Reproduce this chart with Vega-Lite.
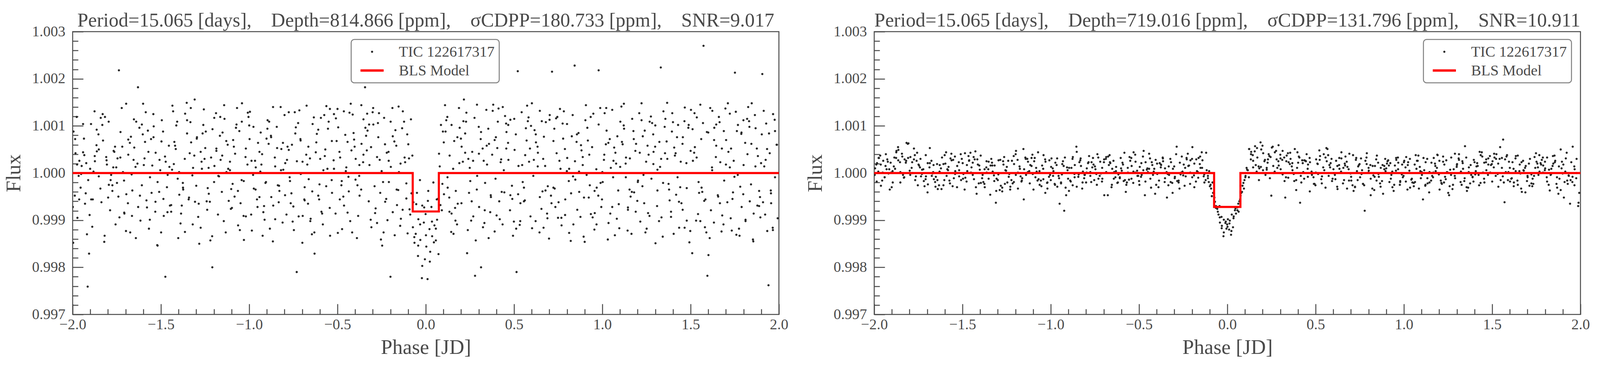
{
  "$schema": "https://vega.github.io/schema/vega-lite/v6.json",
  "background": "white",
  "padding": {"left": 8, "top": 26, "right": 0, "bottom": 10},
  "spacing": 41,
  "resolve": {"scale": {"color": "independent", "shape": "independent"}, "legend": {"color": "independent", "shape": "independent"}},
  "config": {
    "font": "Liberation Serif",
    "view": {"stroke": "#4a4a4a", "strokeWidth": 2.5},
    "axis": {
      "grid": false,
      "domain": false,
      "labelFont": "Liberation Serif",
      "labelFontSize": 38,
      "labelColor": "#4a4a4a",
      "titleFont": "Liberation Serif",
      "titleFontSize": 53,
      "titleFontWeight": "normal",
      "titleColor": "#4a4a4a",
      "tickColor": "#4a4a4a",
      "tickWidth": 2.5,
      "labelFlush": false,
      "labelOverlap": false
    },
    "title": {
      "font": "Liberation Serif",
      "fontSize": 50,
      "fontWeight": "normal",
      "color": "#4a4a4a",
      "frame": "group",
      "anchor": "middle",
      "baseline": "alphabetic",
      "offset": -16
    },
    "legend": {
      "strokeWidth": 2.5,
      "title": null,
      "symbolSize": 1521,
      "symbolStrokeWidth": 0,
      "symbolOffset": 22,
      "labelOffset": 49,
      "padding": 12,
      "rowPadding": 9,
      "labelFont": "Liberation Serif",
      "labelFontSize": 38.5,
      "labelColor": "#4a4a4a",
      "labelLimit": 600,
      "strokeColor": "#7f7f7f",
      "cornerRadius": 8,
      "fillColor": "#ffffff",
      "symbolOpacity": 1
    }
  },
  "datasets": {
    "ma": [{"x": -2, "y": 1}, {"x": -0.074, "y": 0.999185}, {"x": 0.074, "y": 1}, {"x": 2, "y": 1}],
    "mb": [{"x": -2, "y": 1}, {"x": -0.075, "y": 0.999281}, {"x": 0.074, "y": 1}, {"x": 2, "y": 1}],
    "a": [
{"x":-1.984,"y":1.00042},{"x":-1.955,"y":0.99969},{"x":-1.995,"y":1.00088},{"x":-1.966,"y":0.99994},{"x":-1.999,"y":0.99928},{"x":-1.949,"y":1.00015},{"x":-1.977,"y":1.00119},{"x":-1.988,"y":0.99952},{"x":-1.962,"y":1.00026},{"x":-1.973,"y":0.99905},
{"x":-1.912,"y":0.99985},{"x":-1.936,"y":1.00073},{"x":-1.895,"y":0.99944},{"x":-1.923,"y":1.00021},{"x":-1.904,"y":0.99911},{"x":-1.934,"y":1.00038},{"x":-1.941,"y":1.00104},{"x":-1.915,"y":0.99759},{"x":-1.901,"y":1.00009},{"x":-1.926,"y":0.99957},
{"x":-1.876,"y":1.00131},{"x":-1.852,"y":0.99993},{"x":-1.863,"y":1.00046},{"x":-1.889,"y":0.99886},{"x":-1.874,"y":1.00025},{"x":-1.837,"y":0.99938},{"x":-1.854,"y":1.00082},{"x":-1.843,"y":0.99967},{"x":-1.882,"y":1.00003},{"x":-1.865,"y":1.00059},
{"x":-1.788,"y":0.99921},{"x":-1.810,"y":1.00034},{"x":-1.832,"y":1.00102},{"x":-1.795,"y":0.99975},{"x":-1.821,"y":0.99854},{"x":-1.806,"y":1.00018},{"x":-1.782,"y":0.99996},{"x":-1.828,"y":1.00069},{"x":-1.799,"y":0.99948},{"x":-1.817,"y":1.00119},
{"x":-1.760,"y":1.00056},{"x":-1.735,"y":0.99906},{"x":-1.770,"y":1.00012},{"x":-1.746,"y":1.00031},{"x":-1.775,"y":0.99962},{"x":-1.729,"y":1.00087},{"x":-1.757,"y":0.99891},{"x":-1.768,"y":1.00047},{"x":-1.738,"y":1.00218},{"x":-1.749,"y":0.99979},
{"x":-1.687,"y":0.99936},{"x":-1.715,"y":1.00002},{"x":-1.670,"y":1.00077},{"x":-1.698,"y":0.99877},{"x":-1.685,"y":1.00039},{"x":-1.709,"y":0.99984},{"x":-1.722,"y":1.00138},{"x":-1.696,"y":0.99955},{"x":-1.676,"y":1.00064},{"x":-1.707,"y":0.99914},
{"x":-1.655,"y":1.00028},{"x":-1.629,"y":0.99928},{"x":-1.640,"y":1.00109},{"x":-1.666,"y":0.99997},{"x":-1.651,"y":1.00054},{"x":-1.616,"y":0.99899},{"x":-1.633,"y":1.00020},{"x":-1.622,"y":1.00096},{"x":-1.662,"y":0.99963},{"x":-1.644,"y":1.00013},
{"x":-1.568,"y":0.99882},{"x":-1.590,"y":1.00066},{"x":-1.608,"y":0.99974},{"x":-1.571,"y":1.00045},{"x":-1.601,"y":1.00147},{"x":-1.582,"y":0.99942},{"x":-1.562,"y":0.99991},{"x":-1.603,"y":1.00082},{"x":-1.579,"y":0.99927},{"x":-1.593,"y":1.00031},
{"x":-1.541,"y":1.00099},{"x":-1.510,"y":0.99960},{"x":-1.549,"y":1.00016},{"x":-1.521,"y":0.99847},{"x":-1.556,"y":1.00072},{"x":-1.504,"y":1.00006},{"x":-1.532,"y":0.99918},{"x":-1.543,"y":1.00125},{"x":-1.519,"y":0.99981},{"x":-1.530,"y":1.00043},
{"x":-1.466,"y":0.99970},{"x":-1.495,"y":1.00112},{"x":-1.449,"y":0.99931},{"x":-1.477,"y":1.00035},{"x":-1.462,"y":0.99996},{"x":-1.488,"y":1.00088},{"x":-1.499,"y":0.99874},{"x":-1.473,"y":1.00024},{"x":-1.455,"y":1.00058},{"x":-1.484,"y":0.99909},
{"x":-1.435,"y":1.00143},{"x":-1.405,"y":0.99988},{"x":-1.416,"y":1.00051},{"x":-1.442,"y":0.99918},{"x":-1.427,"y":1.00019},{"x":-1.396,"y":0.99954},{"x":-1.413,"y":1.00101},{"x":-1.402,"y":0.99862},{"x":-1.437,"y":1.00007},{"x":-1.424,"y":1.00066},
{"x":-1.343,"y":0.99944},{"x":-1.365,"y":1.00030},{"x":-1.389,"y":0.99893},{"x":-1.352,"y":1.00084},{"x":-1.376,"y":0.99979},{"x":-1.363,"y":1.00126},{"x":-1.337,"y":1.00042},{"x":-1.382,"y":0.99931},{"x":-1.354,"y":1.00149},{"x":-1.374,"y":0.99965},
{"x":-1.318,"y":1.00011},{"x":-1.289,"y":0.99907},{"x":-1.329,"y":1.00065},{"x":-1.300,"y":0.99973},{"x":-1.333,"y":1.00108},{"x":-1.283,"y":0.99850},{"x":-1.311,"y":1.00037},{"x":-1.322,"y":0.99995},{"x":-1.296,"y":1.00076},{"x":-1.307,"y":0.99939},
{"x":-1.246,"y":1.00088},{"x":-1.270,"y":1.00024},{"x":-1.229,"y":0.99956},{"x":-1.257,"y":1.00135},{"x":-1.238,"y":0.99922},{"x":-1.268,"y":1.00009},{"x":-1.275,"y":0.99884},{"x":-1.249,"y":1.00053},{"x":-1.235,"y":0.99968},{"x":-1.260,"y":1.00102},
{"x":-1.210,"y":0.99866},{"x":-1.186,"y":1.00047},{"x":-1.197,"y":1.00015},{"x":-1.223,"y":0.99939},{"x":-1.208,"y":1.00093},{"x":-1.171,"y":0.99993},{"x":-1.188,"y":1.00127},{"x":-1.177,"y":0.99912},{"x":-1.216,"y":1.00033},{"x":-1.199,"y":0.99981},
{"x":-1.122,"y":1.00060},{"x":-1.144,"y":0.99898},{"x":-1.166,"y":1.00079},{"x":-1.129,"y":1.00002},{"x":-1.155,"y":0.99960},{"x":-1.140,"y":1.00115},{"x":-1.116,"y":0.99941},{"x":-1.162,"y":1.00028},{"x":-1.133,"y":0.99874},{"x":-1.151,"y":1.00086},
{"x":-1.094,"y":0.99977},{"x":-1.069,"y":1.00138},{"x":-1.104,"y":0.99924},{"x":-1.080,"y":1.00041},{"x":-1.109,"y":1.00006},{"x":-1.063,"y":0.99889},{"x":-1.091,"y":1.00070},{"x":-1.102,"y":0.99966},{"x":-1.072,"y":1.00103},{"x":-1.083,"y":0.99950},
{"x":-1.021,"y":1.00034},{"x":-1.049,"y":0.99936},{"x":-1.004,"y":1.00119},{"x":-1.032,"y":0.99909},{"x":-1.019,"y":1.00052},{"x":-1.043,"y":0.99985},{"x":-1.056,"y":1.00089},{"x":-1.030,"y":0.99858},{"x":-1.010,"y":1.00018},{"x":-1.041,"y":1.00148},
{"x":-0.989,"y":0.99912},{"x":-0.963,"y":1.00012},{"x":-0.974,"y":0.99967},{"x":-1.000,"y":1.00101},{"x":-0.985,"y":0.99878},{"x":-0.950,"y":1.00064},{"x":-0.967,"y":1.00026},{"x":-0.956,"y":0.99944},{"x":-0.996,"y":1.00130},{"x":-0.978,"y":0.99996},
{"x":-0.902,"y":1.00073},{"x":-0.924,"y":0.99867},{"x":-0.942,"y":1.00045},{"x":-0.905,"y":0.99981},{"x":-0.935,"y":1.00086},{"x":-0.916,"y":0.99930},{"x":-0.896,"y":1.00112},{"x":-0.937,"y":1.00003},{"x":-0.913,"y":0.99901},{"x":-0.927,"y":1.00040},
{"x":-0.875,"y":0.99949},{"x":-0.844,"y":1.00098},{"x":-0.883,"y":0.99882},{"x":-0.855,"y":1.00033},{"x":-0.890,"y":1.00062},{"x":-0.838,"y":0.99974},{"x":-0.866,"y":0.99855},{"x":-0.877,"y":1.00079},{"x":-0.853,"y":1.00014},{"x":-0.864,"y":0.99931},
{"x":-0.800,"y":1.00123},{"x":-0.829,"y":0.99962},{"x":-0.783,"y":1.00056},{"x":-0.811,"y":0.99895},{"x":-0.796,"y":1.00021},{"x":-0.822,"y":1.00140},{"x":-0.833,"y":0.99938},{"x":-0.807,"y":1.00007},{"x":-0.789,"y":0.99912},{"x":-0.818,"y":1.00051},
{"x":-0.769,"y":0.99983},{"x":-0.739,"y":1.00084},{"x":-0.750,"y":0.99929},{"x":-0.776,"y":1.00129},{"x":-0.761,"y":0.99957},{"x":-0.730,"y":1.00025},{"x":-0.747,"y":0.99879},{"x":-0.736,"y":1.00097},{"x":-0.771,"y":0.99991},{"x":-0.758,"y":1.00060},
{"x":-0.677,"y":1.00039},{"x":-0.699,"y":0.99852},{"x":-0.723,"y":1.00106},{"x":-0.686,"y":0.99970},{"x":-0.710,"y":1.00072},{"x":-0.697,"y":0.99909},{"x":-0.671,"y":1.00018},{"x":-0.716,"y":1.00133},{"x":-0.688,"y":0.99944},{"x":-0.708,"y":0.99998},
{"x":-0.652,"y":0.99903},{"x":-0.623,"y":1.00044},{"x":-0.663,"y":0.99987},{"x":-0.634,"y":1.00118},{"x":-0.667,"y":0.99935},{"x":-0.617,"y":1.00083},{"x":-0.645,"y":0.99870},{"x":-0.656,"y":1.00031},{"x":-0.630,"y":0.99829},{"x":-0.641,"y":1.00104},
{"x":-0.580,"y":1.00006},{"x":-0.604,"y":0.99944},{"x":-0.563,"y":1.00142},{"x":-0.591,"y":0.99918},{"x":-0.572,"y":1.00036},{"x":-0.602,"y":0.99976},{"x":-0.609,"y":1.00092},{"x":-0.583,"y":0.99891},{"x":-0.569,"y":1.00050},{"x":-0.594,"y":1.00117},
{"x":-0.544,"y":0.99926},{"x":-0.520,"y":1.00125},{"x":-0.531,"y":0.99958},{"x":-0.557,"y":1.00009},{"x":-0.542,"y":0.99867},{"x":-0.505,"y":1.00068},{"x":-0.522,"y":1.00027},{"x":-0.511,"y":0.99914},{"x":-0.550,"y":1.00109},{"x":-0.533,"y":0.99985},
{"x":-0.456,"y":1.00081},{"x":-0.478,"y":0.99974},{"x":-0.500,"y":1.00136},{"x":-0.463,"y":0.99931},{"x":-0.489,"y":1.00045},{"x":-0.474,"y":0.99881},{"x":-0.450,"y":1.00012},{"x":-0.496,"y":1.00097},{"x":-0.467,"y":0.99950},{"x":-0.485,"y":1.00033},
{"x":-0.428,"y":0.99898},{"x":-0.403,"y":1.00056},{"x":-0.438,"y":0.99992},{"x":-0.414,"y":1.00124},{"x":-0.443,"y":0.99916},{"x":-0.397,"y":1.00030},{"x":-0.425,"y":1.00147},{"x":-0.436,"y":0.99961},{"x":-0.406,"y":1.00071},{"x":-0.417,"y":0.99874},
{"x":-0.355,"y":1.00023},{"x":-0.383,"y":0.99909},{"x":-0.338,"y":1.00079},{"x":-0.366,"y":0.99965},{"x":-0.353,"y":1.00114},{"x":-0.377,"y":0.99994},{"x":-0.390,"y":0.99862},{"x":-0.364,"y":1.00062},{"x":-0.344,"y":1.00182},{"x":-0.375,"y":0.99952},
{"x":-0.323,"y":0.99940},{"x":-0.297,"y":1.00103},{"x":-0.308,"y":0.99885},{"x":-0.334,"y":1.00048},{"x":-0.319,"y":1.00017},{"x":-0.284,"y":0.99925},{"x":-0.301,"y":1.00129},{"x":-0.290,"y":0.99972},{"x":-0.330,"y":1.00090},{"x":-0.312,"y":0.99901},
{"x":-0.236,"y":1.00117},{"x":-0.258,"y":0.99958},{"x":-0.276,"y":1.00034},{"x":-0.239,"y":0.99874},{"x":-0.269,"y":1.00076},{"x":-0.250,"y":1.00004},{"x":-0.230,"y":0.99939},{"x":-0.271,"y":1.00106},{"x":-0.247,"y":0.99846},{"x":-0.261,"y":1.00028},
{"x":-0.209,"y":0.99981},{"x":-0.178,"y":1.00067},{"x":-0.217,"y":0.99900},{"x":-0.189,"y":1.00138},{"x":-0.224,"y":0.99945},{"x":-0.172,"y":1.00091},{"x":-0.200,"y":0.99780},{"x":-0.211,"y":1.00045},{"x":-0.187,"y":0.99917},{"x":-0.198,"y":1.00013},
{"x":-0.134,"y":1.00095},{"x":-0.163,"y":0.99932},{"x":-0.117,"y":1.00023},{"x":-0.145,"y":0.99888},{"x":-0.130,"y":1.00131},{"x":-0.156,"y":0.99964},{"x":-0.167,"y":1.00058},{"x":-0.141,"y":0.99903},{"x":-0.123,"y":1.00109},{"x":-0.152,"y":1.00002},
{"x":-0.110,"y":0.99946},{"x":-0.105,"y":1.00082},{"x":-0.103,"y":0.99872},{"x":-0.095,"y":1.00031},{"x":-0.092,"y":0.99923},{"x":-0.084,"y":1.00114},{"x":-0.081,"y":0.99957},{"x":-0.073,"y":0.99885},{"x":-0.070,"y":0.99938},{"x":-0.064,"y":0.99852},
{"x":-0.057,"y":0.99871},{"x":-0.050,"y":0.99958},{"x":-0.044,"y":0.99824},{"x":-0.042,"y":0.99902},{"x":-0.033,"y":0.99985},{"x":-0.031,"y":0.99858},{"x":-0.022,"y":0.99777},{"x":-0.020,"y":0.99931},{"x":-0.011,"y":0.99895},{"x":-0.005,"y":0.99817},
{"x":-0.001,"y":0.99913},{"x":0.003,"y":0.99844},{"x":0.010,"y":0.99775},{"x":0.014,"y":0.99962},{"x":0.021,"y":0.99881},{"x":0.025,"y":0.99833},{"x":0.032,"y":0.99928},{"x":0.036,"y":0.99866},{"x":0.043,"y":0.99980},{"x":0.049,"y":0.99889},
{"x":0.057,"y":0.99857},{"x":0.062,"y":0.99944},{"x":0.064,"y":0.99901},{"x":0.072,"y":0.99828},{"x":0.075,"y":1.00041},{"x":0.083,"y":0.99932},{"x":0.086,"y":1.00102},{"x":0.094,"y":0.99977},{"x":0.097,"y":1.00088},{"x":0.103,"y":0.99955},
{"x":0.122,"y":1.00119},{"x":0.146,"y":0.99914},{"x":0.135,"y":1.00037},{"x":0.109,"y":1.00144},{"x":0.124,"y":0.99969},{"x":0.161,"y":1.00068},{"x":0.144,"y":0.99875},{"x":0.155,"y":1.00009},{"x":0.116,"y":1.00112},{"x":0.133,"y":0.99948},
{"x":0.210,"y":1.00024},{"x":0.188,"y":1.00138},{"x":0.166,"y":0.99926},{"x":0.203,"y":1.00056},{"x":0.177,"y":0.99891},{"x":0.192,"y":1.00096},{"x":0.216,"y":1.00156},{"x":0.170,"y":0.99962},{"x":0.199,"y":1.00073},{"x":0.181,"y":0.99935},
{"x":0.238,"y":0.99879},{"x":0.263,"y":1.00045},{"x":0.228,"y":1.00109},{"x":0.252,"y":0.99983},{"x":0.223,"y":1.00084},{"x":0.269,"y":0.99908},{"x":0.241,"y":1.00030},{"x":0.230,"y":1.00128},{"x":0.260,"y":0.99940},{"x":0.249,"y":1.00011},
{"x":0.311,"y":1.00072},{"x":0.283,"y":0.99857},{"x":0.328,"y":1.00026},{"x":0.300,"y":1.00098},{"x":0.313,"y":0.99800},{"x":0.289,"y":0.99965},{"x":0.276,"y":1.00117},{"x":0.302,"y":0.99928},{"x":0.322,"y":1.00052},{"x":0.291,"y":0.99994},
{"x":0.343,"y":1.00134},{"x":0.369,"y":0.99949},{"x":0.358,"y":1.00062},{"x":0.332,"y":0.99894},{"x":0.347,"y":1.00018},{"x":0.382,"y":1.00145},{"x":0.365,"y":0.99917},{"x":0.376,"y":1.00039},{"x":0.336,"y":0.99979},{"x":0.354,"y":1.00094},
{"x":0.430,"y":0.99960},{"x":0.408,"y":1.00109},{"x":0.390,"y":0.99876},{"x":0.427,"y":1.00029},{"x":0.397,"y":1.00076},{"x":0.416,"y":0.99940},{"x":0.436,"y":1.00140},{"x":0.395,"y":0.99988},{"x":0.419,"y":0.99902},{"x":0.405,"y":1.00053},
{"x":0.457,"y":1.00087},{"x":0.488,"y":0.99973},{"x":0.449,"y":1.00121},{"x":0.477,"y":0.99921},{"x":0.442,"y":1.00006},{"x":0.494,"y":0.99867},{"x":0.466,"y":1.00064},{"x":0.455,"y":1.00105},{"x":0.479,"y":0.99953},{"x":0.468,"y":1.00028},
{"x":0.532,"y":0.99890},{"x":0.503,"y":1.00049},{"x":0.549,"y":0.99981},{"x":0.521,"y":1.00216},{"x":0.536,"y":0.99936},{"x":0.510,"y":1.00082},{"x":0.499,"y":0.99897},{"x":0.525,"y":1.00015},{"x":0.543,"y":1.00129},{"x":0.514,"y":0.99790},
{"x":0.563,"y":1.00038},{"x":0.593,"y":0.99908},{"x":0.582,"y":1.00118},{"x":0.556,"y":0.99969},{"x":0.571,"y":1.00069},{"x":0.602,"y":0.99883},{"x":0.585,"y":1.00024},{"x":0.596,"y":1.00100},{"x":0.561,"y":0.99942},{"x":0.574,"y":1.00143},
{"x":0.655,"y":0.99924},{"x":0.633,"y":1.00056},{"x":0.609,"y":0.99994},{"x":0.646,"y":1.00132},{"x":0.622,"y":0.99898},{"x":0.635,"y":1.00043},{"x":0.661,"y":0.99961},{"x":0.616,"y":1.00091},{"x":0.644,"y":0.99874},{"x":0.624,"y":1.00065},
{"x":0.680,"y":1.00108},{"x":0.709,"y":0.99952},{"x":0.669,"y":1.00077},{"x":0.698,"y":0.99861},{"x":0.665,"y":1.00030},{"x":0.715,"y":1.00215},{"x":0.687,"y":0.99914},{"x":0.676,"y":1.00015},{"x":0.702,"y":1.00123},{"x":0.691,"y":0.99972},
{"x":0.752,"y":0.99938},{"x":0.728,"y":1.00094},{"x":0.769,"y":0.99889},{"x":0.741,"y":1.00042},{"x":0.760,"y":1.00136},{"x":0.730,"y":0.99967},{"x":0.723,"y":1.00068},{"x":0.749,"y":0.99905},{"x":0.763,"y":1.00009},{"x":0.738,"y":1.00116},
{"x":0.788,"y":1.00051},{"x":0.812,"y":0.99873},{"x":0.801,"y":1.00032},{"x":0.775,"y":1.00105},{"x":0.790,"y":0.99944},{"x":0.827,"y":1.00078},{"x":0.810,"y":0.99983},{"x":0.821,"y":0.99856},{"x":0.782,"y":1.00131},{"x":0.799,"y":1.00004},
{"x":0.876,"y":0.99907},{"x":0.854,"y":1.00066},{"x":0.832,"y":1.00123},{"x":0.869,"y":0.99960},{"x":0.843,"y":1.00228},{"x":0.858,"y":0.99922},{"x":0.882,"y":1.00048},{"x":0.836,"y":0.99891},{"x":0.865,"y":1.00085},{"x":0.847,"y":0.99986},
{"x":0.904,"y":1.00112},{"x":0.929,"y":0.99974},{"x":0.894,"y":0.99865},{"x":0.918,"y":1.00069},{"x":0.889,"y":1.00017},{"x":0.935,"y":0.99913},{"x":0.907,"y":1.00144},{"x":0.896,"y":0.99948},{"x":0.926,"y":1.00039},{"x":0.915,"y":1.00096},
{"x":0.977,"y":0.99952},{"x":0.949,"y":1.00126},{"x":0.994,"y":0.99928},{"x":0.966,"y":1.00008},{"x":0.979,"y":1.00103},{"x":0.955,"y":0.99880},{"x":0.942,"y":1.00055},{"x":0.968,"y":0.99969},{"x":0.988,"y":1.00138},{"x":0.957,"y":0.99915},
{"x":1.009,"y":1.00028},{"x":1.035,"y":0.99894},{"x":1.024,"y":1.00090},{"x":0.998,"y":0.99944},{"x":1.013,"y":1.00127},{"x":1.048,"y":1.00011},{"x":1.031,"y":0.99859},{"x":1.042,"y":1.00072},{"x":1.002,"y":0.99981},{"x":1.020,"y":1.00061},
{"x":1.096,"y":0.99883},{"x":1.074,"y":1.00043},{"x":1.056,"y":1.00134},{"x":1.093,"y":0.99934},{"x":1.063,"y":1.00026},{"x":1.082,"y":0.99903},{"x":1.102,"y":1.00109},{"x":1.061,"y":0.99991},{"x":1.085,"y":1.00078},{"x":1.071,"y":0.99868},
{"x":1.123,"y":1.00094},{"x":1.154,"y":0.99965},{"x":1.115,"y":1.00061},{"x":1.143,"y":0.99878},{"x":1.108,"y":1.00141},{"x":1.160,"y":0.99950},{"x":1.132,"y":1.00020},{"x":1.121,"y":1.00101},{"x":1.145,"y":0.99922},{"x":1.134,"y":1.00033},
{"x":1.198,"y":0.99941},{"x":1.169,"y":1.00115},{"x":1.215,"y":0.99897},{"x":1.187,"y":1.00047},{"x":1.202,"y":0.99984},{"x":1.176,"y":1.00089},{"x":1.165,"y":0.99871},{"x":1.191,"y":1.00062},{"x":1.209,"y":1.00127},{"x":1.180,"y":0.99959},
{"x":1.229,"y":1.00078},{"x":1.259,"y":0.99915},{"x":1.248,"y":1.00024},{"x":1.222,"y":1.00148},{"x":1.237,"y":0.99936},{"x":1.268,"y":1.00109},{"x":1.251,"y":0.99882},{"x":1.262,"y":1.00039},{"x":1.227,"y":0.99972},{"x":1.240,"y":1.00090},
{"x":1.321,"y":0.99898},{"x":1.299,"y":1.00056},{"x":1.275,"y":1.00120},{"x":1.312,"y":0.99963},{"x":1.288,"y":1.00082},{"x":1.301,"y":0.99851},{"x":1.327,"y":1.00013},{"x":1.282,"y":1.00106},{"x":1.310,"y":0.99930},{"x":1.290,"y":1.00045},
{"x":1.346,"y":1.00131},{"x":1.375,"y":0.99977},{"x":1.335,"y":0.99906},{"x":1.364,"y":1.00067},{"x":1.331,"y":1.00224},{"x":1.381,"y":0.99942},{"x":1.353,"y":1.00098},{"x":1.342,"y":0.99865},{"x":1.368,"y":1.00030},{"x":1.357,"y":1.00115},
{"x":1.418,"y":0.99954},{"x":1.394,"y":1.00088},{"x":1.435,"y":0.99884},{"x":1.407,"y":1.00054},{"x":1.426,"y":0.99991},{"x":1.396,"y":1.00127},{"x":1.389,"y":0.99918},{"x":1.415,"y":1.00042},{"x":1.429,"y":1.00102},{"x":1.404,"y":0.99871},
{"x":1.454,"y":1.00062},{"x":1.478,"y":0.99899},{"x":1.467,"y":1.00139},{"x":1.441,"y":0.99970},{"x":1.456,"y":1.00076},{"x":1.493,"y":0.99853},{"x":1.476,"y":1.00021},{"x":1.487,"y":1.00096},{"x":1.448,"y":0.99936},{"x":1.465,"y":1.00110},
{"x":1.542,"y":0.99913},{"x":1.520,"y":1.00043},{"x":1.498,"y":0.99877},{"x":1.535,"y":1.00118},{"x":1.509,"y":0.99830},{"x":1.524,"y":1.00055},{"x":1.548,"y":0.99958},{"x":1.502,"y":1.00134},{"x":1.531,"y":0.99899},{"x":1.513,"y":1.00026},
{"x":1.570,"y":1.00106},{"x":1.595,"y":0.99782},{"x":1.560,"y":1.00072},{"x":1.584,"y":0.99944},{"x":1.555,"y":1.00145},{"x":1.601,"y":0.99826},{"x":1.573,"y":1.00270},{"x":1.562,"y":0.99969},{"x":1.592,"y":1.00087},{"x":1.581,"y":0.99885},
{"x":1.643,"y":1.00034},{"x":1.615,"y":0.99921},{"x":1.660,"y":1.00119},{"x":1.632,"y":0.99895},{"x":1.645,"y":1.00058},{"x":1.621,"y":1.00012},{"x":1.608,"y":0.99862},{"x":1.634,"y":1.00096},{"x":1.654,"y":0.99953},{"x":1.623,"y":1.00132},
{"x":1.675,"y":0.99876},{"x":1.701,"y":1.00070},{"x":1.690,"y":0.99984},{"x":1.664,"y":1.00108},{"x":1.679,"y":0.99910},{"x":1.714,"y":1.00045},{"x":1.697,"y":1.00137},{"x":1.708,"y":0.99938},{"x":1.668,"y":1.00023},{"x":1.686,"y":0.99891},
{"x":1.762,"y":1.00089},{"x":1.740,"y":0.99959},{"x":1.722,"y":1.00126},{"x":1.759,"y":0.99869},{"x":1.729,"y":1.00052},{"x":1.748,"y":0.99992},{"x":1.768,"y":1.00102},{"x":1.727,"y":0.99904},{"x":1.751,"y":1.00213},{"x":1.737,"y":0.99945},
{"x":1.789,"y":0.99928},{"x":1.820,"y":1.00115},{"x":1.781,"y":0.99971},{"x":1.809,"y":1.00064},{"x":1.774,"y":0.99882},{"x":1.826,"y":1.00140},{"x":1.798,"y":0.99955},{"x":1.787,"y":1.00083},{"x":1.811,"y":0.99898},{"x":1.800,"y":1.00017},
{"x":1.864,"y":1.00123},{"x":1.835,"y":0.99940},{"x":1.881,"y":1.00036},{"x":1.853,"y":0.99859},{"x":1.868,"y":1.00095},{"x":1.842,"y":0.99976},{"x":1.831,"y":1.00110},{"x":1.857,"y":0.99914},{"x":1.875,"y":1.00052},{"x":1.846,"y":1.00148},
{"x":1.895,"y":0.99906},{"x":1.925,"y":1.00028},{"x":1.914,"y":1.00132},{"x":1.888,"y":0.99930},{"x":1.903,"y":1.00082},{"x":1.934,"y":0.99877},{"x":1.917,"y":1.00014},{"x":1.928,"y":1.00105},{"x":1.893,"y":0.99949},{"x":1.906,"y":1.00210},
{"x":1.987,"y":1.00060},{"x":1.965,"y":0.99884},{"x":1.941,"y":0.99762},{"x":1.978,"y":1.00089},{"x":1.954,"y":0.99963},{"x":1.967,"y":1.00125},{"x":1.993,"y":0.99904},{"x":1.948,"y":1.00042},{"x":1.976,"y":1.00113},{"x":1.956,"y":0.99936},
{"x":-1.997,"y":0.99852},{"x":-1.986,"y":1.00072},{"x":-1.975,"y":1.00018},{"x":-1.963,"y":0.99944},{"x":-1.952,"y":0.99998},
{"x":-1.941,"y":1.00044},{"x":-1.930,"y":0.99935},{"x":-1.919,"y":0.99870},{"x":-1.907,"y":0.99829},{"x":-1.896,"y":1.00104},
{"x":-1.886,"y":0.99944},{"x":-1.875,"y":1.00036},{"x":-1.864,"y":1.00092},{"x":-1.852,"y":1.00050},{"x":-1.841,"y":1.00117},
{"x":-1.830,"y":1.00125},{"x":-1.819,"y":0.99867},{"x":-1.808,"y":1.00027},{"x":-1.796,"y":1.00109},{"x":-1.785,"y":0.99985},
{"x":-1.775,"y":0.99974},{"x":-1.764,"y":1.00045},{"x":-1.753,"y":1.00012},{"x":-1.741,"y":0.99950},{"x":-1.730,"y":1.00033},
{"x":-1.719,"y":1.00056},{"x":-1.708,"y":0.99916},{"x":-1.697,"y":1.00147},{"x":-1.685,"y":1.00071},{"x":-1.674,"y":0.99874},
{"x":-1.664,"y":0.99909},{"x":-1.653,"y":1.00114},{"x":-1.642,"y":0.99862},{"x":-1.630,"y":1.00182},{"x":-1.619,"y":0.99952},
{"x":-1.608,"y":1.00103},{"x":-1.597,"y":1.00017},{"x":-1.586,"y":1.00129},{"x":-1.574,"y":1.00090},{"x":-1.563,"y":0.99901},
{"x":-1.553,"y":0.99958},{"x":-1.542,"y":1.00076},{"x":-1.531,"y":0.99939},{"x":-1.519,"y":0.99846},{"x":-1.508,"y":1.00028},
{"x":-1.497,"y":1.00067},{"x":-1.486,"y":0.99945},{"x":-1.475,"y":0.99780},{"x":-1.463,"y":0.99917},{"x":-1.452,"y":1.00013},
{"x":-1.442,"y":0.99932},{"x":-1.431,"y":1.00131},{"x":-1.420,"y":1.00058},{"x":-1.408,"y":1.00109},{"x":-1.397,"y":1.00002},
{"x":-1.386,"y":0.99914},{"x":-1.375,"y":0.99969},{"x":-1.364,"y":0.99875},{"x":-1.352,"y":1.00112},{"x":-1.341,"y":0.99948},
{"x":-1.331,"y":1.00138},{"x":-1.320,"y":0.99891},{"x":-1.309,"y":1.00156},{"x":-1.297,"y":1.00073},{"x":-1.286,"y":0.99935},
{"x":-1.275,"y":1.00045},{"x":-1.264,"y":1.00084},{"x":-1.253,"y":1.00030},{"x":-1.241,"y":0.99940},{"x":-1.230,"y":1.00011},
{"x":-1.220,"y":0.99857},{"x":-1.209,"y":0.99800},{"x":-1.198,"y":1.00117},{"x":-1.186,"y":1.00052},{"x":-1.175,"y":0.99994},
{"x":-1.164,"y":1.00119},{"x":-1.153,"y":1.00037},{"x":-1.142,"y":1.00144},{"x":-1.130,"y":1.00068},{"x":-1.119,"y":1.00009},
{"x":-1.109,"y":1.00024},{"x":-1.098,"y":0.99926},{"x":-1.087,"y":1.00056},{"x":-1.075,"y":1.00096},{"x":-1.064,"y":0.99962},
{"x":-1.053,"y":0.99879},{"x":-1.042,"y":1.00109},{"x":-1.031,"y":0.99983},{"x":-1.019,"y":0.99908},{"x":-1.008,"y":1.00128},
{"x":-0.998,"y":1.00072},{"x":-0.987,"y":1.00026},{"x":-0.976,"y":1.00098},{"x":-0.964,"y":0.99965},{"x":-0.953,"y":0.99928},
{"x":-0.942,"y":0.99949},{"x":-0.931,"y":1.00018},{"x":-0.920,"y":0.99917},{"x":-0.908,"y":0.99979},{"x":-0.897,"y":1.00094},
{"x":-0.887,"y":1.00109},{"x":-0.876,"y":1.00076},{"x":-0.865,"y":1.00140},{"x":-0.853,"y":0.99902},{"x":-0.842,"y":1.00053},
{"x":-0.831,"y":0.99973},{"x":-0.820,"y":1.00006},{"x":-0.809,"y":1.00064},{"x":-0.797,"y":0.99953},{"x":-0.786,"y":1.00028},
{"x":-0.776,"y":1.00049},{"x":-0.765,"y":0.99936},{"x":-0.754,"y":0.99897},{"x":-0.742,"y":1.00129},{"x":-0.731,"y":0.99790},
{"x":-0.720,"y":0.99908},{"x":-0.709,"y":1.00069},{"x":-0.698,"y":1.00024},{"x":-0.686,"y":0.99942},{"x":-0.675,"y":1.00143},
{"x":-0.665,"y":1.00056},{"x":-0.654,"y":0.99898},{"x":-0.643,"y":0.99961},{"x":-0.631,"y":0.99874},{"x":-0.620,"y":1.00065},
{"x":-0.609,"y":0.99952},{"x":-0.598,"y":1.00030},{"x":-0.587,"y":0.99914},{"x":-0.575,"y":1.00123},{"x":-0.564,"y":0.99972},
{"x":-0.554,"y":1.00094},{"x":-0.543,"y":1.00136},{"x":-0.532,"y":1.00068},{"x":-0.520,"y":1.00009},{"x":-0.509,"y":1.00116},
{"x":-0.498,"y":0.99873},{"x":-0.487,"y":0.99944},{"x":-0.476,"y":0.99983},{"x":-0.464,"y":1.00131},{"x":-0.453,"y":1.00004},
{"x":-0.443,"y":1.00066},{"x":-0.432,"y":1.00128},{"x":-0.421,"y":1.00048},{"x":-0.409,"y":1.00085},{"x":-0.398,"y":0.99986},
{"x":-0.387,"y":0.99974},{"x":-0.376,"y":1.00017},{"x":-0.365,"y":1.00144},{"x":-0.353,"y":1.00039},{"x":-0.342,"y":1.00096},
{"x":-0.332,"y":1.00126},{"x":-0.321,"y":1.00103},{"x":-0.310,"y":1.00055},{"x":-0.298,"y":1.00138},{"x":-0.287,"y":0.99915},
{"x":-0.276,"y":0.99894},{"x":-0.265,"y":1.00127},{"x":-0.254,"y":0.99859},{"x":-0.242,"y":0.99981},{"x":-0.231,"y":1.00061},
{"x":-0.221,"y":1.00043},{"x":-0.210,"y":1.00026},{"x":-0.199,"y":1.00109},{"x":-0.187,"y":1.00078},{"x":-0.176,"y":0.99868},
{"x":-0.165,"y":0.99965},{"x":-0.154,"y":1.00141},{"x":-0.143,"y":1.00020},{"x":-0.131,"y":0.99922},{"x":-0.120,"y":1.00033},
{"x":-0.110,"y":0.99978},{"x":-0.099,"y":1.00061},{"x":-0.088,"y":0.99912},{"x":-0.076,"y":1.00037},{"x":-0.065,"y":0.99864},
{"x":-0.054,"y":0.99934},{"x":-0.043,"y":0.99846},{"x":-0.032,"y":0.99891},{"x":-0.020,"y":0.99803},{"x":-0.009,"y":0.99927},
{"x":0.001,"y":0.99868},{"x":0.012,"y":0.99941},{"x":0.023,"y":0.99812},{"x":0.035,"y":0.99897},{"x":0.046,"y":0.99853},
{"x":0.057,"y":0.99882},{"x":0.068,"y":0.99945},{"x":0.079,"y":1.00014},{"x":0.091,"y":0.99921},{"x":0.102,"y":1.00065},
{"x":0.112,"y":1.00088},{"x":0.123,"y":0.99991},{"x":0.134,"y":0.99918},{"x":0.146,"y":1.00102},{"x":0.157,"y":0.99871},
{"x":0.168,"y":0.99899},{"x":0.179,"y":1.00076},{"x":0.190,"y":1.00021},{"x":0.202,"y":0.99936},{"x":0.213,"y":1.00110},
{"x":0.223,"y":1.00043},{"x":0.234,"y":0.99830},{"x":0.245,"y":0.99958},{"x":0.257,"y":0.99899},{"x":0.268,"y":1.00026},
{"x":0.279,"y":0.99782},{"x":0.290,"y":1.00145},{"x":0.301,"y":1.00041},{"x":0.313,"y":1.00087},{"x":0.324,"y":0.99885},
{"x":0.334,"y":0.99921},{"x":0.345,"y":1.00058},{"x":0.356,"y":0.99862},{"x":0.368,"y":0.99953},{"x":0.379,"y":1.00132},
{"x":0.390,"y":1.00070},{"x":0.401,"y":0.99910},{"x":0.412,"y":1.00137},{"x":0.424,"y":1.00023},{"x":0.435,"y":0.99891},
{"x":0.445,"y":0.99959},{"x":0.456,"y":1.00052},{"x":0.467,"y":1.00102},{"x":0.479,"y":1.00113},{"x":0.490,"y":0.99945},
{"x":0.501,"y":1.00115},{"x":0.512,"y":0.99882},{"x":0.523,"y":0.99955},{"x":0.535,"y":0.99898},{"x":0.546,"y":1.00017},
{"x":0.556,"y":0.99940},{"x":0.567,"y":1.00095},{"x":0.578,"y":1.00110},{"x":0.590,"y":1.00052},{"x":0.601,"y":1.00148},
{"x":0.612,"y":1.00028},{"x":0.623,"y":1.00082},{"x":0.634,"y":1.00014},{"x":0.646,"y":0.99949},{"x":0.657,"y":1.00110},
{"x":0.667,"y":0.99884},{"x":0.678,"y":0.99963},{"x":0.689,"y":0.99904},{"x":0.701,"y":1.00113},{"x":0.712,"y":0.99936},
{"x":0.723,"y":0.99969},{"x":0.734,"y":0.99928},{"x":0.745,"y":1.00119},{"x":0.757,"y":1.00026},{"x":0.768,"y":0.99905},
{"x":0.778,"y":1.00073},{"x":0.789,"y":0.99911},{"x":0.800,"y":1.00104},{"x":0.812,"y":1.00009},{"x":0.823,"y":0.99957},
{"x":0.834,"y":0.99993},{"x":0.845,"y":1.00025},{"x":0.856,"y":1.00082},{"x":0.868,"y":1.00003},{"x":0.879,"y":1.00059},
{"x":0.889,"y":1.00034},{"x":0.900,"y":0.99854},{"x":0.911,"y":0.99996},{"x":0.923,"y":0.99948},{"x":0.934,"y":1.00119},
{"x":0.945,"y":0.99906},{"x":0.956,"y":0.99962},{"x":0.967,"y":0.99891},{"x":0.979,"y":1.00218},{"x":0.990,"y":0.99979},
{"x":1.000,"y":1.00002},{"x":1.011,"y":1.00039},{"x":1.022,"y":1.00138},{"x":1.034,"y":1.00064},{"x":1.045,"y":0.99914},
{"x":1.056,"y":0.99928},{"x":1.067,"y":1.00054},{"x":1.078,"y":1.00020},{"x":1.090,"y":0.99963},{"x":1.101,"y":1.00013},
{"x":1.111,"y":1.00066},{"x":1.122,"y":1.00147},{"x":1.133,"y":0.99991},{"x":1.145,"y":0.99927},{"x":1.156,"y":1.00031},
{"x":1.167,"y":0.99960},{"x":1.178,"y":1.00072},{"x":1.189,"y":0.99918},{"x":1.201,"y":0.99981},{"x":1.212,"y":1.00043},
{"x":1.222,"y":1.00112},{"x":1.233,"y":0.99996},{"x":1.244,"y":0.99874},{"x":1.256,"y":1.00058},{"x":1.267,"y":0.99909},
{"x":1.278,"y":0.99988},{"x":1.289,"y":1.00019},{"x":1.300,"y":1.00101},{"x":1.312,"y":1.00007},{"x":1.323,"y":1.00066},
{"x":1.333,"y":1.00030},{"x":1.344,"y":0.99979},{"x":1.355,"y":1.00042},{"x":1.367,"y":1.00149},{"x":1.378,"y":0.99965},
{"x":1.389,"y":0.99907},{"x":1.400,"y":1.00108},{"x":1.411,"y":1.00037},{"x":1.423,"y":1.00076},{"x":1.434,"y":0.99939},
{"x":1.444,"y":1.00024},{"x":1.455,"y":0.99922},{"x":1.466,"y":0.99884},{"x":1.478,"y":0.99968},{"x":1.489,"y":1.00102},
{"x":1.500,"y":1.00047},{"x":1.511,"y":1.00093},{"x":1.522,"y":1.00127},{"x":1.534,"y":1.00033},{"x":1.545,"y":0.99981},
{"x":1.555,"y":0.99898},{"x":1.566,"y":0.99960},{"x":1.577,"y":0.99941},{"x":1.589,"y":0.99874},{"x":1.600,"y":1.00086},
{"x":1.611,"y":1.00138},{"x":1.622,"y":1.00006},{"x":1.633,"y":1.00070},{"x":1.645,"y":1.00103},{"x":1.656,"y":0.99950},
{"x":1.666,"y":0.99936},{"x":1.677,"y":1.00052},{"x":1.688,"y":1.00089},{"x":1.700,"y":1.00018},{"x":1.711,"y":1.00148},
{"x":1.722,"y":1.00012},{"x":1.733,"y":0.99878},{"x":1.744,"y":1.00026},{"x":1.756,"y":1.00130},{"x":1.767,"y":0.99996},
{"x":1.777,"y":0.99867},{"x":1.788,"y":1.00086},{"x":1.799,"y":1.00112},{"x":1.811,"y":0.99901},{"x":1.822,"y":1.00040},
{"x":1.833,"y":1.00098},{"x":1.844,"y":1.00062},{"x":1.855,"y":0.99855},{"x":1.867,"y":1.00014},{"x":1.878,"y":0.99931},
{"x":1.888,"y":0.99962},{"x":1.899,"y":1.00021},{"x":1.910,"y":0.99938},{"x":1.922,"y":0.99912},{"x":1.933,"y":1.00051},
{"x":1.944,"y":1.00084},{"x":1.955,"y":0.99957},{"x":1.966,"y":0.99879},{"x":1.978,"y":0.99991},{"x":1.989,"y":1.00060}
    ],
    "b": [
{"x":-1.984,"y":1.00021},{"x":-1.955,"y":0.99984},{"x":-1.995,"y":1.00010},{"x":-1.966,"y":1.00037},{"x":-1.999,"y":0.99997},{"x":-1.949,"y":1.00026},{"x":-1.977,"y":1.00003},{"x":-1.988,"y":1.00018},{"x":-1.962,"y":0.99973},{"x":-1.973,"y":1.00032},
{"x":-1.912,"y":0.99965},{"x":-1.936,"y":1.00015},{"x":-1.895,"y":0.99980},{"x":-1.923,"y":1.00024},{"x":-1.904,"y":1.00001},{"x":-1.934,"y":1.00040},{"x":-1.941,"y":0.99991},{"x":-1.915,"y":1.00008},{"x":-1.901,"y":0.99970},{"x":-1.926,"y":1.00029},
{"x":-1.876,"y":1.00032},{"x":-1.852,"y":1.00002},{"x":-1.863,"y":1.00049},{"x":-1.889,"y":1.00014},{"x":-1.874,"y":1.00047},{"x":-1.837,"y":0.99996},{"x":-1.854,"y":1.00023},{"x":-1.843,"y":1.00041},{"x":-1.882,"y":1.00009},{"x":-1.865,"y":1.00055},
{"x":-1.788,"y":1.00011},{"x":-1.810,"y":1.00062},{"x":-1.832,"y":0.99990},{"x":-1.795,"y":1.00034},{"x":-1.821,"y":1.00022},{"x":-1.806,"y":1.00063},{"x":-1.782,"y":1.00000},{"x":-1.828,"y":1.00029},{"x":-1.799,"y":1.00005},{"x":-1.817,"y":1.00064},
{"x":-1.760,"y":1.00026},{"x":-1.735,"y":0.99993},{"x":-1.770,"y":1.00038},{"x":-1.746,"y":1.00016},{"x":-1.775,"y":1.00052},{"x":-1.729,"y":1.00007},{"x":-1.757,"y":1.00043},{"x":-1.768,"y":0.99985},{"x":-1.738,"y":1.00030},{"x":-1.749,"y":1.00018},
{"x":-1.687,"y":1.00012},{"x":-1.715,"y":0.99972},{"x":-1.670,"y":0.99999},{"x":-1.698,"y":0.99959},{"x":-1.685,"y":1.00021},{"x":-1.709,"y":0.99987},{"x":-1.722,"y":1.00008},{"x":-1.696,"y":0.99976},{"x":-1.676,"y":1.00026},{"x":-1.707,"y":0.99993},
{"x":-1.655,"y":0.99981},{"x":-1.629,"y":1.00017},{"x":-1.640,"y":0.99966},{"x":-1.666,"y":1.00002},{"x":-1.651,"y":0.99992},{"x":-1.616,"y":1.00033},{"x":-1.633,"y":0.99974},{"x":-1.622,"y":1.00010},{"x":-1.662,"y":0.99987},{"x":-1.644,"y":1.00019},
{"x":-1.568,"y":1.00031},{"x":-1.590,"y":0.99994},{"x":-1.608,"y":1.00019},{"x":-1.571,"y":0.99978},{"x":-1.601,"y":1.00038},{"x":-1.582,"y":1.00006},{"x":-1.562,"y":1.00027},{"x":-1.603,"y":0.99985},{"x":-1.579,"y":1.00013},{"x":-1.593,"y":1.00044},
{"x":-1.541,"y":1.00004},{"x":-1.510,"y":1.00040},{"x":-1.549,"y":0.99989},{"x":-1.521,"y":1.00023},{"x":-1.556,"y":0.99972},{"x":-1.504,"y":1.00030},{"x":-1.532,"y":1.00000},{"x":-1.543,"y":1.00035},{"x":-1.519,"y":0.99993},{"x":-1.530,"y":1.00015},
{"x":-1.466,"y":1.00036},{"x":-1.495,"y":0.99998},{"x":-1.449,"y":1.00012},{"x":-1.477,"y":0.99982},{"x":-1.462,"y":1.00027},{"x":-1.488,"y":0.99965},{"x":-1.499,"y":1.00021},{"x":-1.473,"y":1.00004},{"x":-1.455,"y":1.00043},{"x":-1.484,"y":0.99990},
{"x":-1.435,"y":0.99987},{"x":-1.405,"y":1.00016},{"x":-1.416,"y":1.00029},{"x":-1.442,"y":0.99996},{"x":-1.427,"y":1.00046},{"x":-1.396,"y":0.99979},{"x":-1.413,"y":1.00018},{"x":-1.402,"y":1.00007},{"x":-1.437,"y":1.00034},{"x":-1.424,"y":0.99970},
{"x":-1.343,"y":0.99954},{"x":-1.365,"y":1.00012},{"x":-1.389,"y":0.99989},{"x":-1.352,"y":1.00024},{"x":-1.376,"y":0.99977},{"x":-1.363,"y":1.00001},{"x":-1.337,"y":1.00030},{"x":-1.382,"y":0.99981},{"x":-1.354,"y":1.00008},{"x":-1.374,"y":0.99970},
{"x":-1.318,"y":1.00016},{"x":-1.289,"y":0.99964},{"x":-1.329,"y":1.00003},{"x":-1.300,"y":0.99985},{"x":-1.333,"y":1.00022},{"x":-1.283,"y":0.99973},{"x":-1.311,"y":0.99937},{"x":-1.322,"y":0.99995},{"x":-1.296,"y":1.00027},{"x":-1.307,"y":0.99988},
{"x":-1.246,"y":0.99980},{"x":-1.270,"y":1.00025},{"x":-1.229,"y":0.99971},{"x":-1.257,"y":1.00006},{"x":-1.238,"y":0.99992},{"x":-1.268,"y":1.00018},{"x":-1.275,"y":0.99961},{"x":-1.249,"y":1.00013},{"x":-1.235,"y":0.99998},{"x":-1.260,"y":0.99977},
{"x":-1.210,"y":1.00036},{"x":-1.186,"y":1.00001},{"x":-1.197,"y":1.00047},{"x":-1.223,"y":0.99985},{"x":-1.208,"y":1.00019},{"x":-1.171,"y":0.99993},{"x":-1.188,"y":1.00028},{"x":-1.177,"y":1.00014},{"x":-1.216,"y":0.99978},{"x":-1.199,"y":1.00040},
{"x":-1.122,"y":1.00004},{"x":-1.144,"y":1.00033},{"x":-1.166,"y":0.99982},{"x":-1.129,"y":1.00024},{"x":-1.155,"y":1.00051},{"x":-1.140,"y":0.99996},{"x":-1.116,"y":1.00017},{"x":-1.162,"y":0.99989},{"x":-1.133,"y":1.00030},{"x":-1.151,"y":1.00008},
{"x":-1.094,"y":1.00025},{"x":-1.069,"y":0.99987},{"x":-1.104,"y":1.00039},{"x":-1.080,"y":1.00003},{"x":-1.109,"y":1.00015},{"x":-1.063,"y":0.99975},{"x":-1.091,"y":1.00032},{"x":-1.102,"y":0.99998},{"x":-1.072,"y":1.00044},{"x":-1.083,"y":1.00011},
{"x":-1.021,"y":0.99979},{"x":-1.049,"y":1.00016},{"x":-1.004,"y":0.99996},{"x":-1.032,"y":1.00029},{"x":-1.019,"y":0.99967},{"x":-1.043,"y":1.00009},{"x":-1.056,"y":0.99984},{"x":-1.030,"y":1.00024},{"x":-1.010,"y":0.99992},{"x":-1.041,"y":1.00038},
{"x":-0.989,"y":1.00010},{"x":-0.963,"y":0.99971},{"x":-0.974,"y":1.00022},{"x":-1.000,"y":0.99985},{"x":-0.985,"y":1.00004},{"x":-0.950,"y":0.99935},{"x":-0.967,"y":1.00017},{"x":-0.956,"y":0.99994},{"x":-0.996,"y":1.00031},{"x":-0.978,"y":0.99977},
{"x":-0.902,"y":0.99988},{"x":-0.924,"y":0.99920},{"x":-0.942,"y":0.99980},{"x":-0.905,"y":1.00006},{"x":-0.935,"y":1.00019},{"x":-0.916,"y":0.99969},{"x":-0.896,"y":1.00011},{"x":-0.937,"y":0.99997},{"x":-0.913,"y":0.99953},{"x":-0.927,"y":1.00015},
{"x":-0.875,"y":1.00034},{"x":-0.844,"y":0.99992},{"x":-0.883,"y":1.00011},{"x":-0.855,"y":1.00056},{"x":-0.890,"y":0.99984},{"x":-0.838,"y":1.00023},{"x":-0.866,"y":0.99998},{"x":-0.877,"y":1.00030},{"x":-0.853,"y":0.99971},{"x":-0.864,"y":1.00017},
{"x":-0.800,"y":0.99980},{"x":-0.829,"y":1.00015},{"x":-0.783,"y":1.00036},{"x":-0.811,"y":0.99989},{"x":-0.796,"y":1.00010},{"x":-0.822,"y":0.99967},{"x":-0.833,"y":1.00027},{"x":-0.807,"y":0.99996},{"x":-0.789,"y":1.00021},{"x":-0.818,"y":1.00003},
{"x":-0.769,"y":1.00023},{"x":-0.739,"y":0.99975},{"x":-0.750,"y":1.00014},{"x":-0.776,"y":1.00002},{"x":-0.761,"y":1.00032},{"x":-0.730,"y":0.99988},{"x":-0.747,"y":1.00008},{"x":-0.736,"y":1.00040},{"x":-0.771,"y":0.99981},{"x":-0.758,"y":1.00018},
{"x":-0.677,"y":0.99953},{"x":-0.699,"y":1.00023},{"x":-0.723,"y":0.99994},{"x":-0.686,"y":1.00034},{"x":-0.710,"y":0.99982},{"x":-0.697,"y":0.99953},{"x":-0.671,"y":1.00017},{"x":-0.716,"y":0.99999},{"x":-0.688,"y":1.00030},{"x":-0.708,"y":0.99988},
{"x":-0.652,"y":1.00009},{"x":-0.623,"y":0.99979},{"x":-0.663,"y":1.00021},{"x":-0.634,"y":0.99991},{"x":-0.667,"y":1.00038},{"x":-0.617,"y":0.99997},{"x":-0.645,"y":1.00026},{"x":-0.656,"y":0.99970},{"x":-0.630,"y":1.00013},{"x":-0.641,"y":1.00002},
{"x":-0.580,"y":0.99985},{"x":-0.604,"y":1.00032},{"x":-0.563,"y":1.00001},{"x":-0.591,"y":1.00018},{"x":-0.572,"y":0.99975},{"x":-0.602,"y":1.00010},{"x":-0.609,"y":0.99989},{"x":-0.583,"y":1.00043},{"x":-0.569,"y":0.99980},{"x":-0.594,"y":1.00022},
{"x":-0.544,"y":1.00032},{"x":-0.520,"y":1.00001},{"x":-0.531,"y":1.00044},{"x":-0.557,"y":0.99986},{"x":-0.542,"y":1.00015},{"x":-0.505,"y":0.99994},{"x":-0.522,"y":1.00039},{"x":-0.511,"y":1.00005},{"x":-0.550,"y":1.00026},{"x":-0.533,"y":0.99979},
{"x":-0.456,"y":1.00007},{"x":-0.478,"y":1.00035},{"x":-0.500,"y":0.99983},{"x":-0.463,"y":1.00023},{"x":-0.489,"y":0.99992},{"x":-0.474,"y":1.00047},{"x":-0.450,"y":1.00002},{"x":-0.496,"y":1.00013},{"x":-0.467,"y":0.99953},{"x":-0.485,"y":0.99996},
{"x":-0.428,"y":1.00023},{"x":-0.403,"y":0.99975},{"x":-0.438,"y":1.00031},{"x":-0.414,"y":1.00009},{"x":-0.443,"y":1.00041},{"x":-0.397,"y":0.99998},{"x":-0.425,"y":1.00017},{"x":-0.436,"y":0.99988},{"x":-0.406,"y":1.00028},{"x":-0.417,"y":1.00003},
{"x":-0.355,"y":0.99981},{"x":-0.383,"y":1.00021},{"x":-0.338,"y":0.99998},{"x":-0.366,"y":1.00033},{"x":-0.353,"y":0.99989},{"x":-0.377,"y":1.00012},{"x":-0.390,"y":0.99970},{"x":-0.364,"y":1.00025},{"x":-0.344,"y":1.00002},{"x":-0.375,"y":1.00017},
{"x":-0.323,"y":1.00030},{"x":-0.297,"y":0.99992},{"x":-0.308,"y":1.00009},{"x":-0.334,"y":0.99974},{"x":-0.319,"y":1.00023},{"x":-0.284,"y":0.99983},{"x":-0.301,"y":1.00014},{"x":-0.290,"y":1.00040},{"x":-0.330,"y":0.99996},{"x":-0.312,"y":0.99979},
{"x":-0.236,"y":0.99993},{"x":-0.258,"y":1.00035},{"x":-0.276,"y":0.99980},{"x":-0.239,"y":1.00011},{"x":-0.269,"y":1.00022},{"x":-0.250,"y":0.99995},{"x":-0.230,"y":1.00029},{"x":-0.271,"y":0.99967},{"x":-0.247,"y":1.00018},{"x":-0.261,"y":1.00001},
{"x":-0.209,"y":1.00027},{"x":-0.178,"y":0.99982},{"x":-0.217,"y":1.00016},{"x":-0.189,"y":0.99995},{"x":-0.224,"y":1.00041},{"x":-0.172,"y":1.00004},{"x":-0.200,"y":1.00030},{"x":-0.211,"y":0.99977},{"x":-0.187,"y":1.00020},{"x":-0.198,"y":1.00055},
{"x":-0.134,"y":0.99993},{"x":-0.163,"y":1.00032},{"x":-0.117,"y":1.00006},{"x":-0.145,"y":1.00044},{"x":-0.130,"y":0.99980},{"x":-0.156,"y":1.00019},{"x":-0.167,"y":1.00002},{"x":-0.141,"y":1.00027},{"x":-0.123,"y":0.99985},{"x":-0.152,"y":1.00011},
{"x":-0.110,"y":0.99994},{"x":-0.105,"y":0.99981},{"x":-0.103,"y":1.00004},{"x":-0.095,"y":0.99975},{"x":-0.092,"y":0.99967},{"x":-0.084,"y":0.99980},{"x":-0.081,"y":0.99958},{"x":-0.073,"y":0.99948},{"x":-0.070,"y":0.99939},{"x":-0.064,"y":0.99930},
{"x":-0.057,"y":0.99924},{"x":-0.050,"y":0.99912},{"x":-0.044,"y":0.99930},{"x":-0.042,"y":0.99895},{"x":-0.033,"y":0.99907},{"x":-0.031,"y":0.99888},{"x":-0.022,"y":0.99866},{"x":-0.020,"y":0.99901},{"x":-0.011,"y":0.99894},{"x":-0.005,"y":0.99882},
{"x":-0.001,"y":0.99891},{"x":0.003,"y":0.99902},{"x":0.010,"y":0.99880},{"x":0.014,"y":0.99899},{"x":0.021,"y":0.99869},{"x":0.025,"y":0.99912},{"x":0.032,"y":0.99885},{"x":0.036,"y":0.99908},{"x":0.043,"y":0.99921},{"x":0.049,"y":0.99914},
{"x":0.057,"y":0.99927},{"x":0.062,"y":0.99935},{"x":0.064,"y":0.99918},{"x":0.072,"y":0.99944},{"x":0.075,"y":0.99952},{"x":0.083,"y":0.99960},{"x":0.086,"y":0.99973},{"x":0.094,"y":0.99967},{"x":0.097,"y":0.99985},{"x":0.103,"y":0.99994},
{"x":0.122,"y":0.99991},{"x":0.146,"y":1.00012},{"x":0.135,"y":1.00045},{"x":0.109,"y":1.00011},{"x":0.124,"y":1.00051},{"x":0.161,"y":1.00017},{"x":0.144,"y":1.00038},{"x":0.155,"y":1.00046},{"x":0.116,"y":1.00006},{"x":0.133,"y":1.00029},
{"x":0.210,"y":1.00025},{"x":0.188,"y":1.00065},{"x":0.166,"y":1.00003},{"x":0.203,"y":1.00042},{"x":0.177,"y":1.00014},{"x":0.192,"y":1.00050},{"x":0.216,"y":0.99996},{"x":0.170,"y":1.00033},{"x":0.199,"y":1.00058},{"x":0.181,"y":1.00010},
{"x":0.238,"y":1.00036},{"x":0.263,"y":1.00000},{"x":0.228,"y":1.00022},{"x":0.252,"y":1.00054},{"x":0.223,"y":1.00007},{"x":0.269,"y":1.00044},{"x":0.241,"y":0.99989},{"x":0.230,"y":1.00029},{"x":0.260,"y":1.00015},{"x":0.249,"y":0.99952},
{"x":0.311,"y":1.00028},{"x":0.283,"y":1.00011},{"x":0.328,"y":0.99948},{"x":0.300,"y":1.00039},{"x":0.313,"y":0.99997},{"x":0.289,"y":1.00025},{"x":0.276,"y":1.00047},{"x":0.302,"y":1.00008},{"x":0.322,"y":1.00033},{"x":0.291,"y":1.00016},
{"x":0.343,"y":1.00042},{"x":0.369,"y":1.00006},{"x":0.358,"y":1.00030},{"x":0.332,"y":0.99991},{"x":0.347,"y":1.00023},{"x":0.382,"y":1.00051},{"x":0.365,"y":1.00014},{"x":0.376,"y":0.99998},{"x":0.336,"y":1.00037},{"x":0.354,"y":1.00019},
{"x":0.430,"y":1.00002},{"x":0.408,"y":1.00033},{"x":0.390,"y":0.99985},{"x":0.427,"y":1.00021},{"x":0.397,"y":1.00044},{"x":0.416,"y":0.99994},{"x":0.436,"y":1.00027},{"x":0.395,"y":1.00011},{"x":0.419,"y":0.99980},{"x":0.405,"y":1.00035},
{"x":0.457,"y":1.00018},{"x":0.488,"y":0.99991},{"x":0.449,"y":1.00040},{"x":0.477,"y":1.00003},{"x":0.442,"y":1.00026},{"x":0.494,"y":0.99977},{"x":0.466,"y":1.00032},{"x":0.455,"y":1.00009},{"x":0.479,"y":0.99996},{"x":0.468,"y":1.00023},
{"x":0.532,"y":0.99987},{"x":0.503,"y":1.00029},{"x":0.549,"y":1.00006},{"x":0.521,"y":1.00048},{"x":0.536,"y":0.99993},{"x":0.510,"y":1.00020},{"x":0.499,"y":0.99974},{"x":0.525,"y":1.00036},{"x":0.543,"y":1.00012},{"x":0.514,"y":0.99998},
{"x":0.563,"y":1.00025},{"x":0.593,"y":0.99983},{"x":0.582,"y":1.00012},{"x":0.556,"y":0.99969},{"x":0.571,"y":1.00038},{"x":0.602,"y":1.00000},{"x":0.585,"y":1.00021},{"x":0.596,"y":0.99988},{"x":0.561,"y":1.00053},{"x":0.574,"y":0.99994},
{"x":0.655,"y":0.99978},{"x":0.633,"y":1.00017},{"x":0.609,"y":0.99996},{"x":0.646,"y":1.00031},{"x":0.622,"y":0.99971},{"x":0.635,"y":1.00009},{"x":0.661,"y":0.99985},{"x":0.616,"y":1.00026},{"x":0.644,"y":1.00003},{"x":0.624,"y":0.99966},
{"x":0.680,"y":1.00013},{"x":0.709,"y":0.99974},{"x":0.669,"y":1.00035},{"x":0.698,"y":0.99999},{"x":0.665,"y":1.00020},{"x":0.715,"y":0.99962},{"x":0.687,"y":1.00008},{"x":0.676,"y":1.00024},{"x":0.702,"y":0.99984},{"x":0.691,"y":1.00041},
{"x":0.752,"y":0.99991},{"x":0.728,"y":1.00028},{"x":0.769,"y":0.99977},{"x":0.741,"y":1.00014},{"x":0.760,"y":0.99998},{"x":0.730,"y":1.00032},{"x":0.723,"y":0.99970},{"x":0.749,"y":1.00019},{"x":0.763,"y":1.00006},{"x":0.738,"y":0.99985},
{"x":0.788,"y":1.00033},{"x":0.812,"y":0.99988},{"x":0.801,"y":1.00005},{"x":0.775,"y":0.99974},{"x":0.790,"y":1.00042},{"x":0.827,"y":0.99995},{"x":0.810,"y":1.00017},{"x":0.821,"y":0.99967},{"x":0.782,"y":1.00026},{"x":0.799,"y":1.00001},
{"x":0.876,"y":0.99983},{"x":0.854,"y":1.00022},{"x":0.832,"y":0.99964},{"x":0.869,"y":1.00011},{"x":0.843,"y":1.00029},{"x":0.858,"y":0.99992},{"x":0.882,"y":0.99956},{"x":0.836,"y":1.00015},{"x":0.865,"y":0.99978},{"x":0.847,"y":1.00037},
{"x":0.904,"y":1.00020},{"x":0.929,"y":0.99996},{"x":0.894,"y":1.00030},{"x":0.918,"y":0.99981},{"x":0.889,"y":1.00008},{"x":0.935,"y":0.99970},{"x":0.907,"y":1.00025},{"x":0.896,"y":1.00004},{"x":0.926,"y":0.99988},{"x":0.915,"y":1.00016},
{"x":0.977,"y":0.99975},{"x":0.949,"y":1.00016},{"x":0.994,"y":0.99991},{"x":0.966,"y":1.00033},{"x":0.979,"y":0.99983},{"x":0.955,"y":1.00005},{"x":0.942,"y":0.99962},{"x":0.968,"y":1.00022},{"x":0.988,"y":0.99997},{"x":0.957,"y":1.00028},
{"x":1.009,"y":1.00012},{"x":1.035,"y":0.99969},{"x":1.024,"y":1.00023},{"x":0.998,"y":0.99994},{"x":1.013,"y":1.00034},{"x":1.048,"y":0.99980},{"x":1.031,"y":1.00005},{"x":1.042,"y":0.99986},{"x":1.002,"y":1.00026},{"x":1.020,"y":0.99965},
{"x":1.096,"y":0.99989},{"x":1.074,"y":1.00026},{"x":1.056,"y":0.99972},{"x":1.093,"y":1.00004},{"x":1.063,"y":0.99981},{"x":1.082,"y":1.00037},{"x":1.102,"y":0.99996},{"x":1.061,"y":1.00018},{"x":1.085,"y":0.99967},{"x":1.071,"y":1.00009},
{"x":1.123,"y":1.00023},{"x":1.154,"y":0.99984},{"x":1.115,"y":1.00006},{"x":1.143,"y":0.99959},{"x":1.108,"y":0.99944},{"x":1.160,"y":0.99994},{"x":1.132,"y":1.00030},{"x":1.121,"y":0.99973},{"x":1.145,"y":1.00002},{"x":1.134,"y":0.99978},
{"x":1.198,"y":0.99997},{"x":1.169,"y":1.00032},{"x":1.215,"y":0.99977},{"x":1.187,"y":1.00011},{"x":1.202,"y":0.99965},{"x":1.176,"y":1.00020},{"x":1.165,"y":0.99991},{"x":1.191,"y":1.00038},{"x":1.209,"y":0.99984},{"x":1.180,"y":1.00004},
{"x":1.229,"y":1.00018},{"x":1.259,"y":0.99972},{"x":1.248,"y":1.00001},{"x":1.222,"y":1.00024},{"x":1.237,"y":0.99987},{"x":1.268,"y":1.00033},{"x":1.251,"y":0.99958},{"x":1.262,"y":1.00007},{"x":1.227,"y":0.99980},{"x":1.240,"y":1.00027},
{"x":1.321,"y":0.99981},{"x":1.299,"y":1.00013},{"x":1.275,"y":0.99966},{"x":1.312,"y":1.00040},{"x":1.288,"y":0.99994},{"x":1.301,"y":1.00019},{"x":1.327,"y":0.99975},{"x":1.282,"y":1.00008},{"x":1.310,"y":1.00031},{"x":1.290,"y":0.99989},
{"x":1.346,"y":1.00057},{"x":1.375,"y":0.99978},{"x":1.335,"y":1.00009},{"x":1.364,"y":0.99969},{"x":1.331,"y":1.00025},{"x":1.381,"y":0.99996},{"x":1.353,"y":1.00033},{"x":1.342,"y":0.99983},{"x":1.368,"y":1.00012},{"x":1.357,"y":0.99962},
{"x":1.418,"y":1.00015},{"x":1.394,"y":0.99982},{"x":1.435,"y":1.00038},{"x":1.407,"y":1.00004},{"x":1.426,"y":0.99974},{"x":1.396,"y":1.00028},{"x":1.389,"y":0.99991},{"x":1.415,"y":1.00021},{"x":1.429,"y":1.00045},{"x":1.404,"y":0.99997},
{"x":1.454,"y":0.99988},{"x":1.478,"y":1.00031},{"x":1.467,"y":1.00006},{"x":1.441,"y":1.00044},{"x":1.456,"y":0.99980},{"x":1.493,"y":1.00017},{"x":1.476,"y":0.99996},{"x":1.487,"y":1.00036},{"x":1.448,"y":1.00001},{"x":1.465,"y":1.00023},
{"x":1.542,"y":1.00030},{"x":1.520,"y":0.99994},{"x":1.498,"y":1.00019},{"x":1.535,"y":0.99971},{"x":1.509,"y":1.00012},{"x":1.524,"y":1.00040},{"x":1.548,"y":0.99985},{"x":1.502,"y":1.00025},{"x":1.531,"y":0.99998},{"x":1.513,"y":1.00033},
{"x":1.570,"y":0.99938},{"x":1.595,"y":1.00024},{"x":1.560,"y":0.99993},{"x":1.584,"y":1.00038},{"x":1.555,"y":1.00011},{"x":1.601,"y":0.99982},{"x":1.573,"y":1.00029},{"x":1.562,"y":1.00071},{"x":1.592,"y":1.00002},{"x":1.581,"y":1.00035},
{"x":1.643,"y":0.99984},{"x":1.615,"y":1.00023},{"x":1.660,"y":0.99999},{"x":1.632,"y":1.00031},{"x":1.645,"y":0.99975},{"x":1.621,"y":1.00009},{"x":1.608,"y":0.99988},{"x":1.634,"y":1.00036},{"x":1.654,"y":1.00004},{"x":1.623,"y":0.99980},
{"x":1.675,"y":1.00026},{"x":1.701,"y":0.99991},{"x":1.690,"y":1.00015},{"x":1.664,"y":0.99967},{"x":1.679,"y":1.00005},{"x":1.714,"y":1.00030},{"x":1.697,"y":0.99983},{"x":1.708,"y":1.00020},{"x":1.668,"y":0.99960},{"x":1.686,"y":1.00011},
{"x":1.762,"y":0.99996},{"x":1.740,"y":1.00034},{"x":1.722,"y":0.99978},{"x":1.759,"y":1.00012},{"x":1.729,"y":0.99988},{"x":1.748,"y":1.00042},{"x":1.768,"y":1.00003},{"x":1.727,"y":0.99972},{"x":1.751,"y":1.00024},{"x":1.737,"y":0.99994},
{"x":1.789,"y":1.00016},{"x":1.820,"y":0.99975},{"x":1.781,"y":1.00028},{"x":1.809,"y":0.99991},{"x":1.774,"y":1.00021},{"x":1.826,"y":0.99963},{"x":1.798,"y":1.00006},{"x":1.787,"y":1.00033},{"x":1.811,"y":0.99982},{"x":1.800,"y":1.00010},
{"x":1.864,"y":0.99977},{"x":1.835,"y":1.00009},{"x":1.881,"y":0.99988},{"x":1.853,"y":1.00037},{"x":1.868,"y":0.99969},{"x":1.842,"y":1.00015},{"x":1.831,"y":0.99996},{"x":1.857,"y":1.00026},{"x":1.875,"y":0.99956},{"x":1.846,"y":1.00020},
{"x":1.895,"y":1.00024},{"x":1.925,"y":0.99984},{"x":1.914,"y":1.00003},{"x":1.888,"y":0.99964},{"x":1.903,"y":1.00018},{"x":1.934,"y":0.99994},{"x":1.917,"y":1.00031},{"x":1.928,"y":0.99977},{"x":1.893,"y":1.00010},{"x":1.906,"y":0.99948},
{"x":1.987,"y":0.99930},{"x":1.965,"y":1.00014},{"x":1.941,"y":0.99935},{"x":1.978,"y":1.00030},{"x":1.954,"y":0.99981},{"x":1.967,"y":1.00008},{"x":1.993,"y":0.99958},{"x":1.948,"y":1.00023},{"x":1.976,"y":0.99989},{"x":1.956,"y":1.00056},
{"x":-1.997,"y":0.99996},{"x":-1.986,"y":0.99982},{"x":-1.975,"y":1.00032},{"x":-1.963,"y":1.00018},{"x":-1.952,"y":1.00001},
{"x":-1.941,"y":0.99991},{"x":-1.930,"y":1.00008},{"x":-1.919,"y":0.99999},{"x":-1.907,"y":1.00022},{"x":-1.896,"y":1.00004},
{"x":-1.886,"y":1.00033},{"x":-1.875,"y":1.00044},{"x":-1.864,"y":1.00027},{"x":-1.852,"y":0.99980},{"x":-1.841,"y":1.00035},
{"x":-1.830,"y":0.99991},{"x":-1.819,"y":1.00026},{"x":-1.808,"y":1.00032},{"x":-1.796,"y":0.99996},{"x":-1.785,"y":1.00023},
{"x":-1.775,"y":1.00029},{"x":-1.764,"y":0.99993},{"x":-1.753,"y":0.99974},{"x":-1.741,"y":1.00012},{"x":-1.730,"y":0.99998},
{"x":-1.719,"y":0.99983},{"x":-1.708,"y":1.00038},{"x":-1.697,"y":1.00021},{"x":-1.685,"y":1.00053},{"x":-1.674,"y":0.99994},
{"x":-1.664,"y":1.00017},{"x":-1.653,"y":0.99971},{"x":-1.642,"y":0.99985},{"x":-1.630,"y":1.00003},{"x":-1.619,"y":0.99966},
{"x":-1.608,"y":0.99974},{"x":-1.597,"y":1.00020},{"x":-1.586,"y":1.00008},{"x":-1.574,"y":0.99984},{"x":-1.563,"y":1.00041},
{"x":-1.553,"y":1.00028},{"x":-1.542,"y":0.99998},{"x":-1.531,"y":0.99970},{"x":-1.519,"y":1.00006},{"x":-1.508,"y":0.99985},
{"x":-1.497,"y":0.99988},{"x":-1.486,"y":1.00042},{"x":-1.475,"y":1.00017},{"x":-1.463,"y":1.00026},{"x":-1.452,"y":1.00001},
{"x":-1.442,"y":1.00022},{"x":-1.431,"y":1.00029},{"x":-1.420,"y":0.99956},{"x":-1.408,"y":0.99978},{"x":-1.397,"y":1.00037},
{"x":-1.386,"y":0.99996},{"x":-1.375,"y":1.00008},{"x":-1.364,"y":1.00025},{"x":-1.352,"y":0.99988},{"x":-1.341,"y":1.00016},
{"x":-1.331,"y":1.00016},{"x":-1.320,"y":0.99983},{"x":-1.309,"y":0.99962},{"x":-1.297,"y":0.99997},{"x":-1.286,"y":1.00028},
{"x":-1.275,"y":0.99969},{"x":-1.264,"y":1.00034},{"x":-1.253,"y":1.00005},{"x":-1.241,"y":1.00026},{"x":-1.230,"y":0.99965},
{"x":-1.220,"y":1.00026},{"x":-1.209,"y":0.99981},{"x":-1.198,"y":0.99996},{"x":-1.186,"y":0.99967},{"x":-1.175,"y":1.00009},
{"x":-1.164,"y":0.99984},{"x":-1.153,"y":0.99944},{"x":-1.142,"y":1.00030},{"x":-1.130,"y":1.00002},{"x":-1.119,"y":0.99978},
{"x":-1.109,"y":1.00032},{"x":-1.098,"y":0.99965},{"x":-1.087,"y":0.99991},{"x":-1.075,"y":0.99984},{"x":-1.064,"y":1.00004},
{"x":-1.053,"y":0.99972},{"x":-1.042,"y":0.99987},{"x":-1.031,"y":0.99958},{"x":-1.019,"y":0.99980},{"x":-1.008,"y":1.00027},
{"x":-0.998,"y":1.00013},{"x":-0.987,"y":0.99994},{"x":-0.976,"y":0.99975},{"x":-0.964,"y":1.00031},{"x":-0.953,"y":0.99989},
{"x":-0.942,"y":0.99978},{"x":-0.931,"y":1.00025},{"x":-0.920,"y":1.00033},{"x":-0.908,"y":1.00012},{"x":-0.897,"y":0.99962},
{"x":-0.887,"y":0.99982},{"x":-0.876,"y":0.99974},{"x":-0.865,"y":0.99991},{"x":-0.853,"y":1.00045},{"x":-0.842,"y":0.99997},
{"x":-0.831,"y":1.00031},{"x":-0.820,"y":0.99980},{"x":-0.809,"y":0.99996},{"x":-0.797,"y":1.00001},{"x":-0.786,"y":1.00023},
{"x":-0.776,"y":0.99994},{"x":-0.765,"y":1.00012},{"x":-0.754,"y":0.99985},{"x":-0.742,"y":0.99998},{"x":-0.731,"y":1.00033},
{"x":-0.720,"y":1.00024},{"x":-0.709,"y":1.00011},{"x":-0.698,"y":1.00029},{"x":-0.686,"y":1.00002},{"x":-0.675,"y":1.00035},
{"x":-0.665,"y":1.00023},{"x":-0.654,"y":0.99975},{"x":-0.643,"y":0.99988},{"x":-0.631,"y":1.00004},{"x":-0.620,"y":0.99980},
{"x":-0.609,"y":0.99991},{"x":-0.598,"y":1.00005},{"x":-0.587,"y":0.99983},{"x":-0.575,"y":0.99960},{"x":-0.564,"y":1.00011},
{"x":-0.554,"y":1.00034},{"x":-0.543,"y":0.99988},{"x":-0.532,"y":1.00003},{"x":-0.520,"y":1.00024},{"x":-0.509,"y":0.99994},
{"x":-0.498,"y":0.99975},{"x":-0.487,"y":1.00021},{"x":-0.476,"y":1.00006},{"x":-0.464,"y":0.99982},{"x":-0.453,"y":1.00010},
{"x":-0.443,"y":1.00009},{"x":-0.432,"y":0.99969},{"x":-0.421,"y":0.99996},{"x":-0.409,"y":0.99956},{"x":-0.398,"y":1.00020},
{"x":-0.387,"y":0.99984},{"x":-0.376,"y":1.00018},{"x":-0.365,"y":1.00031},{"x":-0.353,"y":1.00010},{"x":-0.342,"y":0.99948},
{"x":-0.332,"y":1.00014},{"x":-0.321,"y":0.99981},{"x":-0.310,"y":0.99958},{"x":-0.298,"y":0.99989},{"x":-0.287,"y":1.00056},
{"x":-0.276,"y":0.99984},{"x":-0.265,"y":0.99997},{"x":-0.254,"y":1.00003},{"x":-0.242,"y":0.99973},{"x":-0.231,"y":1.00032},
{"x":-0.221,"y":1.00015},{"x":-0.210,"y":1.00001},{"x":-0.199,"y":0.99991},{"x":-0.187,"y":0.99970},{"x":-0.176,"y":1.00029},
{"x":-0.165,"y":0.99990},{"x":-0.154,"y":1.00035},{"x":-0.143,"y":1.00011},{"x":-0.131,"y":0.99997},{"x":-0.120,"y":1.00043},
{"x":-0.110,"y":0.99989},{"x":-0.099,"y":0.99972},{"x":-0.088,"y":0.99951},{"x":-0.076,"y":0.99957},{"x":-0.065,"y":0.99926},
{"x":-0.054,"y":0.99918},{"x":-0.043,"y":0.99906},{"x":-0.032,"y":0.99883},{"x":-0.020,"y":0.99874},{"x":-0.009,"y":0.99897},
{"x":0.001,"y":0.99886},{"x":0.012,"y":0.99893},{"x":0.023,"y":0.99877},{"x":0.035,"y":0.99904},{"x":0.046,"y":0.99925},
{"x":0.057,"y":0.99921},{"x":0.068,"y":0.99940},{"x":0.079,"y":0.99958},{"x":0.091,"y":0.99979},{"x":0.102,"y":0.99991},
{"x":0.112,"y":1.00007},{"x":0.123,"y":1.00051},{"x":0.134,"y":1.00040},{"x":0.146,"y":1.00026},{"x":0.157,"y":1.00057},
{"x":0.168,"y":1.00053},{"x":0.179,"y":0.99985},{"x":0.190,"y":1.00013},{"x":0.202,"y":1.00006},{"x":0.213,"y":1.00028},
{"x":0.223,"y":1.00011},{"x":0.234,"y":1.00040},{"x":0.245,"y":1.00034},{"x":0.257,"y":1.00056},{"x":0.268,"y":1.00003},
{"x":0.279,"y":1.00029},{"x":0.290,"y":1.00059},{"x":0.301,"y":1.00031},{"x":0.313,"y":1.00047},{"x":0.324,"y":0.99983},
{"x":0.334,"y":1.00025},{"x":0.345,"y":0.99990},{"x":0.356,"y":1.00043},{"x":0.368,"y":1.00021},{"x":0.379,"y":0.99983},
{"x":0.390,"y":0.99964},{"x":0.401,"y":1.00022},{"x":0.412,"y":0.99937},{"x":0.424,"y":1.00027},{"x":0.435,"y":0.99988},
{"x":0.445,"y":1.00025},{"x":0.456,"y":0.99992},{"x":0.467,"y":0.99961},{"x":0.479,"y":0.99998},{"x":0.490,"y":0.99977},
{"x":0.501,"y":1.00001},{"x":0.512,"y":1.00019},{"x":0.523,"y":1.00028},{"x":0.535,"y":0.99978},{"x":0.546,"y":1.00040},
{"x":0.556,"y":1.00033},{"x":0.567,"y":1.00051},{"x":0.578,"y":1.00017},{"x":0.590,"y":1.00030},{"x":0.601,"y":1.00008},
{"x":0.612,"y":0.99987},{"x":0.623,"y":1.00015},{"x":0.634,"y":1.00032},{"x":0.646,"y":1.00044},{"x":0.657,"y":1.00011},
{"x":0.667,"y":1.00016},{"x":0.678,"y":0.99967},{"x":0.689,"y":0.99984},{"x":0.701,"y":0.99992},{"x":0.712,"y":1.00038},
{"x":0.723,"y":0.99971},{"x":0.734,"y":1.00004},{"x":0.745,"y":1.00017},{"x":0.757,"y":1.00031},{"x":0.768,"y":0.99977},
{"x":0.778,"y":0.99920},{"x":0.789,"y":1.00019},{"x":0.800,"y":1.00011},{"x":0.812,"y":0.99953},{"x":0.823,"y":1.00015},
{"x":0.834,"y":0.99992},{"x":0.845,"y":0.99984},{"x":0.856,"y":0.99998},{"x":0.868,"y":0.99971},{"x":0.879,"y":1.00017},
{"x":0.889,"y":1.00015},{"x":0.900,"y":1.00010},{"x":0.911,"y":1.00027},{"x":0.923,"y":1.00021},{"x":0.934,"y":1.00003},
{"x":0.945,"y":0.99975},{"x":0.956,"y":1.00032},{"x":0.967,"y":1.00008},{"x":0.979,"y":0.99981},{"x":0.990,"y":1.00018},
{"x":1.000,"y":1.00023},{"x":1.011,"y":0.99982},{"x":1.022,"y":1.00017},{"x":1.034,"y":1.00030},{"x":1.045,"y":0.99988},
{"x":1.056,"y":0.99979},{"x":1.067,"y":1.00038},{"x":1.078,"y":1.00026},{"x":1.090,"y":1.00013},{"x":1.101,"y":1.00002},
{"x":1.111,"y":1.00032},{"x":1.122,"y":0.99975},{"x":1.133,"y":0.99989},{"x":1.145,"y":0.99980},{"x":1.156,"y":1.00022},
{"x":1.167,"y":1.00001},{"x":1.178,"y":1.00015},{"x":1.189,"y":1.00039},{"x":1.201,"y":1.00026},{"x":1.212,"y":0.99979},
{"x":1.222,"y":1.00035},{"x":1.233,"y":0.99992},{"x":1.244,"y":1.00002},{"x":1.256,"y":0.99953},{"x":1.267,"y":0.99996},
{"x":1.278,"y":0.99975},{"x":1.289,"y":1.00041},{"x":1.300,"y":1.00017},{"x":1.312,"y":1.00028},{"x":1.323,"y":1.00003},
{"x":1.333,"y":1.00021},{"x":1.344,"y":0.99989},{"x":1.355,"y":0.99970},{"x":1.367,"y":1.00002},{"x":1.378,"y":1.00017},
{"x":1.389,"y":0.99992},{"x":1.400,"y":1.00023},{"x":1.411,"y":1.00014},{"x":1.423,"y":0.99996},{"x":1.434,"y":0.99979},
{"x":1.444,"y":1.00035},{"x":1.455,"y":1.00022},{"x":1.466,"y":1.00029},{"x":1.478,"y":1.00018},{"x":1.489,"y":1.00001},
{"x":1.500,"y":0.99982},{"x":1.511,"y":1.00041},{"x":1.522,"y":1.00030},{"x":1.534,"y":1.00020},{"x":1.545,"y":1.00055},
{"x":1.555,"y":1.00032},{"x":1.566,"y":0.99980},{"x":1.577,"y":1.00002},{"x":1.589,"y":0.99985},{"x":1.600,"y":1.00011},
{"x":1.611,"y":0.99989},{"x":1.622,"y":0.99972},{"x":1.633,"y":1.00004},{"x":1.645,"y":1.00037},{"x":1.656,"y":1.00018},
{"x":1.666,"y":1.00023},{"x":1.677,"y":1.00006},{"x":1.688,"y":0.99959},{"x":1.700,"y":0.99994},{"x":1.711,"y":0.99973},
{"x":1.722,"y":0.99997},{"x":1.733,"y":0.99977},{"x":1.744,"y":1.00011},{"x":1.756,"y":1.00020},{"x":1.767,"y":1.00038},
{"x":1.777,"y":1.00018},{"x":1.788,"y":1.00001},{"x":1.799,"y":1.00024},{"x":1.811,"y":1.00033},{"x":1.822,"y":1.00007},
{"x":1.833,"y":0.99997},{"x":1.844,"y":1.00036},{"x":1.855,"y":1.00023},{"x":1.867,"y":0.99991},{"x":1.878,"y":1.00014},
{"x":1.888,"y":1.00050},{"x":1.899,"y":0.99999},{"x":1.910,"y":0.99981},{"x":1.922,"y":1.00043},{"x":1.933,"y":0.99995},
{"x":1.944,"y":0.99985},{"x":1.955,"y":0.99992},{"x":1.966,"y":0.99974},{"x":1.978,"y":1.00000},{"x":1.989,"y":0.99937}
    ]
  },
  "hconcat": [
    {
      "width": 1808,
      "height": 724,
      "title": {"text": "Period=15.065 [days],\u00a0\u00a0\u00a0 Depth=814.866 [ppm],\u00a0\u00a0\u00a0 \u03c3CDPP=180.733 [ppm],\u00a0\u00a0\u00a0 SNR=9.017"},
      "encoding": {
        "x": {
          "field": "x", "type": "quantitative", "title": "Phase [JD]",
          "scale": {"domain": [-2, 2], "nice": false, "zero": false},
          "axis": {
            "values": [-2,-1.9,-1.8,-1.7,-1.6,-1.5,-1.4,-1.3,-1.2,-1.1,-1,-0.9,-0.8,-0.7,-0.6,-0.5,-0.4,-0.3,-0.2,-0.1,0,0.1,0.2,0.3,0.4,0.5,0.6,0.7,0.8,0.9,1,1.1,1.2,1.3,1.4,1.5,1.6,1.7,1.8,1.9,2],
            "labelExpr": "abs(datum.value*2-round(datum.value*2))<0.001 ? format(datum.value,'.1f') : ''",
            "tickSize": {"condition": {"test": "abs(datum.value*2-round(datum.value*2))<0.001", "value": -27}, "value": -14},
            "labelPadding": 34,
            "titlePadding": 0
          }
        },
        "y": {
          "field": "y", "type": "quantitative", "title": "Flux",
          "scale": {"domain": [0.997, 1.003], "nice": false, "zero": false},
          "axis": {
            "values": [0.997,0.9972,0.9974,0.9976,0.9978,0.998,0.9982,0.9984,0.9986,0.9988,0.999,0.9992,0.9994,0.9996,0.9998,1,1.0002,1.0004,1.0006,1.0008,1.001,1.0012,1.0014,1.0016,1.0018,1.002,1.0022,1.0024,1.0026,1.0028,1.003],
            "labelExpr": "abs(datum.value*1000-round(datum.value*1000))<0.01 ? format(datum.value,'.3f') : ''",
            "tickSize": {"condition": {"test": "abs(datum.value*1000-round(datum.value*1000))<0.01", "value": -27}, "value": -14},
            "labelPadding": 46,
            "titlePadding": 19
          }
        }
      },
      "layer": [
        {
          "data": {"name": "a"},
          "mark": {"type": "point", "filled": true, "size": 1600, "opacity": 1, "strokeWidth": 0, "clip": true},
          "encoding": {
            "color": {
              "datum": "TIC 122617317", "type": "nominal",
              "scale": {"domain": ["TIC 122617317", "BLS Model"], "range": ["#262626", "#ff0000"]},
              "legend": {"orient": "none", "legendX": 713, "legendY": 20}
            },
            "shape": {
              "datum": "TIC 122617317", "type": "nominal",
              "scale": {"domain": ["TIC 122617317", "BLS Model"], "range": ["M-0.14,0a0.14,0.14 0 1,0 0.28,0a0.14,0.14 0 1,0 -0.28,0Z", "M-1.52,-0.16H1.52V0.16H-1.52Z"]},
              "legend": {"orient": "none", "legendX": 713, "legendY": 20}
            }
          }
        },
        {
          "data": {"name": "ma"},
          "mark": {"type": "line", "interpolate": "step-after", "strokeWidth": 5.4, "strokeJoin": "miter", "clip": true},
          "encoding": {"color": {"datum": "BLS Model", "type": "nominal"}}
        }
      ]
    },
    {
      "width": 1808,
      "height": 724,
      "title": {"text": "Period=15.065 [days],\u00a0\u00a0\u00a0 Depth=719.016 [ppm],\u00a0\u00a0\u00a0 \u03c3CDPP=131.796 [ppm],\u00a0\u00a0\u00a0 SNR=10.911"},
      "encoding": {
        "x": {
          "field": "x", "type": "quantitative", "title": "Phase [JD]",
          "scale": {"domain": [-2, 2], "nice": false, "zero": false},
          "axis": {
            "values": [-2,-1.9,-1.8,-1.7,-1.6,-1.5,-1.4,-1.3,-1.2,-1.1,-1,-0.9,-0.8,-0.7,-0.6,-0.5,-0.4,-0.3,-0.2,-0.1,0,0.1,0.2,0.3,0.4,0.5,0.6,0.7,0.8,0.9,1,1.1,1.2,1.3,1.4,1.5,1.6,1.7,1.8,1.9,2],
            "labelExpr": "abs(datum.value*2-round(datum.value*2))<0.001 ? format(datum.value,'.1f') : ''",
            "tickSize": {"condition": {"test": "abs(datum.value*2-round(datum.value*2))<0.001", "value": -27}, "value": -14},
            "labelPadding": 34,
            "titlePadding": 0
          }
        },
        "y": {
          "field": "y", "type": "quantitative", "title": "Flux",
          "scale": {"domain": [0.997, 1.003], "nice": false, "zero": false},
          "axis": {
            "values": [0.997,0.9972,0.9974,0.9976,0.9978,0.998,0.9982,0.9984,0.9986,0.9988,0.999,0.9992,0.9994,0.9996,0.9998,1,1.0002,1.0004,1.0006,1.0008,1.001,1.0012,1.0014,1.0016,1.0018,1.002,1.0022,1.0024,1.0026,1.0028,1.003],
            "labelExpr": "abs(datum.value*1000-round(datum.value*1000))<0.01 ? format(datum.value,'.3f') : ''",
            "tickSize": {"condition": {"test": "abs(datum.value*1000-round(datum.value*1000))<0.01", "value": -27}, "value": -14},
            "labelPadding": 46,
            "titlePadding": 19
          }
        }
      },
      "layer": [
        {
          "data": {"name": "b"},
          "mark": {"type": "point", "filled": true, "size": 1600, "opacity": 1, "strokeWidth": 0, "clip": true},
          "encoding": {
            "color": {
              "datum": "TIC 122617317", "type": "nominal",
              "scale": {"domain": ["TIC 122617317", "BLS Model"], "range": ["#262626", "#ff0000"]},
              "legend": {"orient": "none", "legendX": 1406, "legendY": 20}
            },
            "shape": {
              "datum": "TIC 122617317", "type": "nominal",
              "scale": {"domain": ["TIC 122617317", "BLS Model"], "range": ["M-0.14,0a0.14,0.14 0 1,0 0.28,0a0.14,0.14 0 1,0 -0.28,0Z", "M-1.52,-0.16H1.52V0.16H-1.52Z"]},
              "legend": {"orient": "none", "legendX": 1406, "legendY": 20}
            }
          }
        },
        {
          "data": {"name": "mb"},
          "mark": {"type": "line", "interpolate": "step-after", "strokeWidth": 5.4, "strokeJoin": "miter", "clip": true},
          "encoding": {"color": {"datum": "BLS Model", "type": "nominal"}}
        }
      ]
    }
  ]
}
